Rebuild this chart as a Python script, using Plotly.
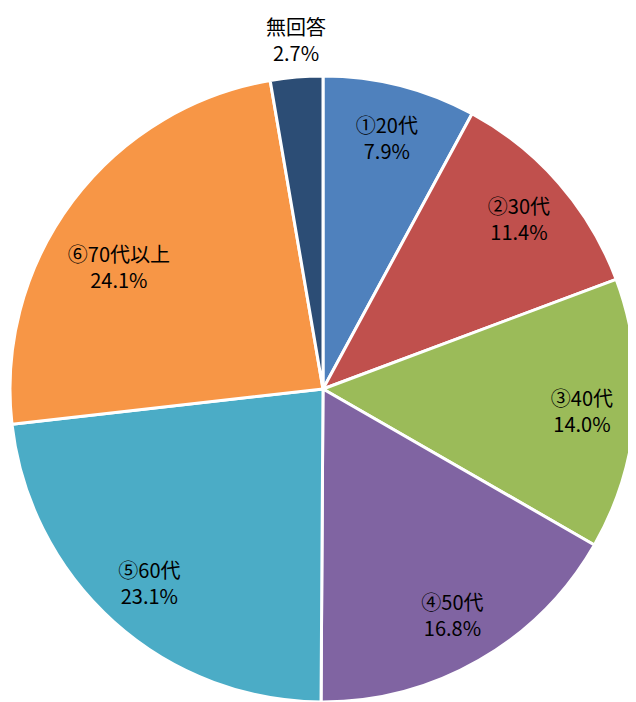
import math
import plotly.graph_objects as go

labels = ["①20代", "②30代", "③40代", "④50代", "⑤60代", "⑥70代以上", "無回答"]
values = [7.9, 11.4, 14.0, 16.8, 23.1, 24.1, 2.7]
colors = ["#4F81BD", "#C0504D", "#9BBB59", "#8064A2", "#4BACC6", "#F79646", "#2C4D75"]

# figure sized to fit inside the page body (8px default body margin)
W, H = 628, 694
# pie geometry (paper pixels)
CX, CY, R = 315, 381, 313
dom_x = [(CX - R) / W, min(1.0, (CX + R) / W)]
dom_y = [max(0.0, (H - CY - R) / H), (H - CY + R) / H]
FONT = dict(family="Noto Sans CJK JP", size=20, color="black")

fig = go.Figure()

# coloured slices
fig.add_trace(go.Pie(
    labels=labels, values=values, sort=False, direction="clockwise", rotation=0,
    marker=dict(colors=colors, line=dict(color="white", width=3)),
    textinfo="none", hoverinfo="label+percent", domain=dict(x=dom_x, y=dom_y),
    showlegend=False,
))

# transparent overlay carrying the inside labels (ring positions the text)
txt_main = [f"{l}<br>{v:.1f}%" if i < 5 else "" for i, (l, v) in enumerate(zip(labels, values))]
fig.add_trace(go.Pie(
    labels=labels, values=values, sort=False, direction="clockwise", rotation=0,
    hole=0.66, marker=dict(colors=["rgba(0,0,0,0)"] * 7, line=dict(width=0)),
    text=txt_main, texttemplate="%{text}", textposition="inside",
    insidetextorientation="horizontal", textfont=FONT, hoverinfo="skip",
    domain=dict(x=dom_x, y=dom_y), showlegend=False,
))

txt_six = [f"{l}<br>{v:.1f}%" if i == 5 else "" for i, (l, v) in enumerate(zip(labels, values))]
fig.add_trace(go.Pie(
    labels=labels, values=values, sort=False, direction="clockwise", rotation=-6,
    hole=0.52, marker=dict(colors=["rgba(0,0,0,0)"] * 7, line=dict(width=0)),
    text=txt_six, texttemplate="%{text}", textposition="inside",
    insidetextorientation="horizontal", textfont=FONT, hoverinfo="skip",
    domain=dict(x=dom_x, y=dom_y), showlegend=False,
))

# outside label for the small 無回答 slice
total = sum(values)
mid = 2 * math.pi * (sum(values[:-1]) + values[-1] / 2) / total
RL = 321
fig.add_annotation(
    x=(CX + RL * math.sin(mid)) / W, y=(H - CY + RL * math.cos(mid)) / H,
    xref="paper", yref="paper", xanchor="center", yanchor="bottom",
    text=f"{labels[-1]}<br>{values[-1]:.1f}%", showarrow=False, font=FONT,
)

fig.update_layout(
    width=W, height=H,
    margin=dict(l=0, r=0, t=0, b=0),
    paper_bgcolor="white", plot_bgcolor="white",
    uniformtext=dict(minsize=20, mode="show"),
)

fig.write_html("out.html")
